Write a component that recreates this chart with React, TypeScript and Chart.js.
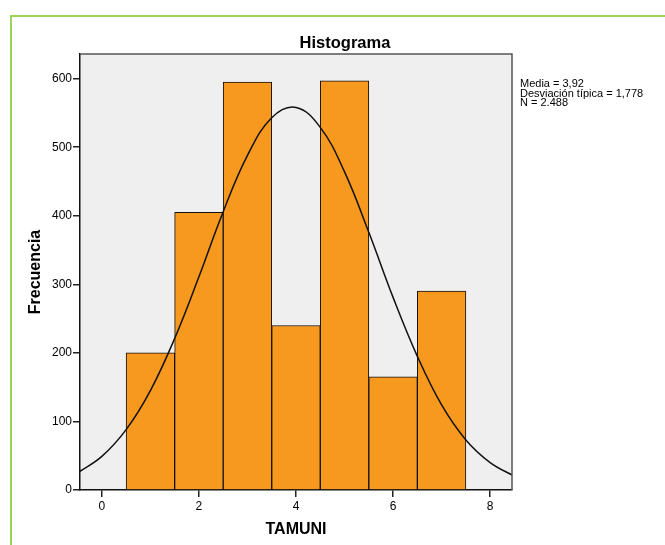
import React, { useEffect, useRef } from "react";
import { Chart, registerables } from "chart.js";

Chart.register(...registerables);

// ---- data ----
const binCenters = [1, 2, 3, 4, 5, 6, 7];
const frequencies = [200, 405, 595, 240, 597, 165, 290];

// normal curve
const curveX = [-0.5, 0, 0.5, 1, 1.5, 2, 2.5, 3, 3.5, 4, 4.5, 5, 5.5, 6, 6.5, 7, 7.5, 8, 8.5];
const curveY = [25, 49, 88, 145, 221, 311, 406, 488, 543, 558, 529, 464, 376, 281, 195, 124, 73, 40, 20];

const yTickValues = [0, 100, 200, 300, 400, 500, 600];
const xTickValues = [0, 2, 4, 6, 8];

const chartTitle = "Histograma";
const xTitle = "TAMUNI";
const yTitle = "Frecuencia";
const statsLines = ["Media = 3,92", "Desviación típica = 1,778", "N = 2.488"];

const FONT = '"Liberation Sans", Arial, Helvetica, sans-serif';

export default function App() {
  const ref = useRef<HTMLCanvasElement>(null);

  useEffect(() => {
    const canvas = ref.current;
    if (!canvas) return;

    const decor = {
      id: "decor",
      beforeDraw(chart: any) {
        const { ctx, chartArea: a } = chart;
        ctx.save();
        ctx.fillStyle = "#efefef";
        ctx.fillRect(a.left, a.top, a.right - a.left, a.bottom - a.top);
        ctx.restore();
      },
      afterDraw(chart: any) {
        const { ctx, chartArea: a } = chart;
        ctx.save();
        ctx.strokeStyle = "#555";
        ctx.lineWidth = 1.5;
        ctx.beginPath();
        ctx.moveTo(a.left, a.top);
        ctx.lineTo(a.right, a.top);
        ctx.lineTo(a.right, a.bottom);
        ctx.stroke();

        ctx.fillStyle = "#000";
        ctx.textAlign = "center";
        ctx.textBaseline = "middle";
        ctx.font = `bold 16.5px ${FONT}`;
        ctx.fillText(chartTitle, 345, 43);
        ctx.font = `bold 16px ${FONT}`;
        ctx.fillText(xTitle, (a.left + a.right) / 2, 530);
        ctx.save();
        ctx.translate(36, (a.top + a.bottom) / 2);
        ctx.rotate(-Math.PI / 2);
        ctx.fillText(yTitle, 0, 0);
        ctx.restore();

        ctx.font = `11px ${FONT}`;
        ctx.textAlign = "left";
        ctx.fillStyle = "#000";
        statsLines.forEach((s, i) => ctx.fillText(s, a.right + 8, 84 + i * 9.7));
        ctx.restore();
      },
    };

    const chart = new Chart(canvas, {
      type: "bar",
      data: {
        datasets: [
          {
            type: "line",
            data: curveX.map((x, i) => ({ x, y: curveY[i] })),
            borderColor: "#111",
            borderWidth: 1.5,
            pointRadius: 0,
            tension: 0.4,
            fill: false,
            order: 0,
          } as any,
          {
            type: "bar",
            data: binCenters.map((x, i) => ({ x, y: frequencies[i] })),
            backgroundColor: "#f7991f",
            borderColor: "#111",
            borderWidth: 1,
            barPercentage: 1,
            categoryPercentage: 1,
            grouped: false,
            order: 1,
          } as any,
        ],
      },
      options: {
        responsive: false,
        animation: false,
        devicePixelRatio: 1,
        layout: { padding: { top: 54, right: 153, left: 0, bottom: 0 } },
        plugins: {
          legend: { display: false },
          tooltip: { enabled: false },
          title: { display: false },
        },
        scales: {
          x: {
            type: "linear",
            min: -0.45,
            max: 8.45,
            offset: false,
            afterBuildTicks: (s: any) => {
              s.ticks = xTickValues.map((v) => ({ value: v }));
            },
            afterFit: (s: any) => {
              s.height = 55;
            },
            ticks: {
              autoSkip: false,
              maxRotation: 0,
              padding: 2,
              color: "#000",
              font: { family: FONT, size: 12 },
            },
            grid: { drawOnChartArea: false, offset: false, tickLength: 7, color: "#222", lineWidth: 1.5 },
            border: { color: "#111", width: 1.5 },
          },
          y: {
            type: "linear",
            min: 0,
            max: 636,
            afterBuildTicks: (s: any) => {
              s.ticks = yTickValues.map((v) => ({ value: v }));
            },
            afterFit: (s: any) => {
              s.width = 80;
            },
            ticks: {
              autoSkip: false,
              padding: 1,
              color: "#000",
              font: { family: FONT, size: 12 },
            },
            grid: { drawOnChartArea: false, tickLength: 7, color: "#222", lineWidth: 1.5 },
            border: { color: "#111", width: 1.5 },
          },
        },
      },
      plugins: [decor],
    } as any);

    return () => chart.destroy();
  }, []);

  return (
    <div style={{ position: "absolute", left: 0, top: 0, width: 665, height: 545, background: "#fff", overflow: "hidden" }}>
      <div
        style={{
          position: "absolute",
          left: 10,
          top: 15,
          width: 700,
          height: 600,
          borderLeft: "2px solid #99d35a",
          borderTop: "2px solid #99d35a",
        }}
      />
      <canvas ref={ref} width={665} height={545} style={{ position: "absolute", left: 0, top: 0 }} />
    </div>
  );
}
